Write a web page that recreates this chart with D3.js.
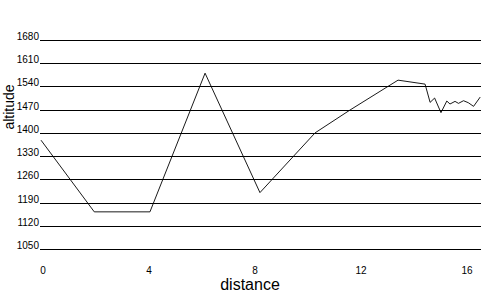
<!DOCTYPE html>
<html>
<head>
<meta charset="utf-8">
<script src="https://cdn.jsdelivr.net/npm/d3@7"></script>
<style>
  body { margin: 0; background: #fff; }
  svg { font-family: "Liberation Sans", Arial, sans-serif; }
</style>
</head>
<body>
<script>
// profile readings (km, m)
var distance = [0, 2.01, 4.11, 6.19, 8.26, 10.34, 11.66, 13.47, 14.49, 14.68, 14.85, 15.09, 15.31, 15.43, 15.62, 15.75, 15.94, 16.12, 16.32, 16.57];
var altitude = [1378, 1162, 1162, 1580, 1220, 1400, 1469, 1559, 1547, 1492, 1505, 1461, 1496, 1487, 1495, 1489, 1497, 1491, 1480, 1508];
var yTicks = [1050, 1120, 1190, 1260, 1330, 1400, 1470, 1540, 1610, 1680];
var xTicks = [0, 4, 8, 12, 16];

var width = 500;
var height = 300;
var svg = d3.select('body')
    .append("svg")
    .attr("width", width)
    .attr("height", height);

var xScale = d3.scaleLinear()
    .domain([0, 16.6])
    .range([41, 481]);
var yScale = d3.scaleLinear()
    .domain([1050, 1680])
    .range([249, 40]);

// grid lines with labels sitting on them
var grid = svg.append('g').classed('grid', true);
grid.selectAll('line')
    .data(yTicks)
    .enter()
    .append('line')
    .attr('x1', xScale(0) - 1)
    .attr('x2', xScale.range()[1])
    .attr('y1', function (d) { return Math.round(yScale(d)) + 0.5; })
    .attr('y2', function (d) { return Math.round(yScale(d)) + 0.5; })
    .attr('stroke', '#000')
    .attr('stroke-width', 1)
    .attr('shape-rendering', 'crispEdges');
grid.selectAll('text')
    .data(yTicks)
    .enter()
    .append('text')
    .attr('x', 39)
    .attr('y', function (d) { return Math.round(yScale(d)); })
    .attr('text-anchor', 'end')
    .attr('font-size', 10)
    .text(function (d) { return d; });

// x tick labels
svg.append('g').classed('x', true)
    .selectAll('text')
    .data(xTicks)
    .enter()
    .append('text')
    .attr('x', function (d) { return xScale(d) + 2; })
    .attr('y', 274)
    .attr('text-anchor', 'middle')
    .attr('font-size', 10)
    .text(function (d) { return d; });

var line = d3.line()
    .x(function (d, i) { return xScale(distance[i]); })
    .y(function (d) { return yScale(d); });
svg.append('path')
    .datum(altitude)
    .attr('d', line)
    .attr('fill', 'none')
    .attr('stroke', '#000')
    .attr('stroke-width', 0.9);

svg.append('text')
    .attr('x', 250)
    .attr('y', 290)
    .attr('text-anchor', 'middle')
    .attr('font-size', 16)
    .text('distance');
svg.append('text')
    .attr('transform', 'translate(14,107) rotate(-90)')
    .attr('text-anchor', 'middle')
    .attr('font-size', 14)
    .text('altitude');
</script>
</body>
</html>
